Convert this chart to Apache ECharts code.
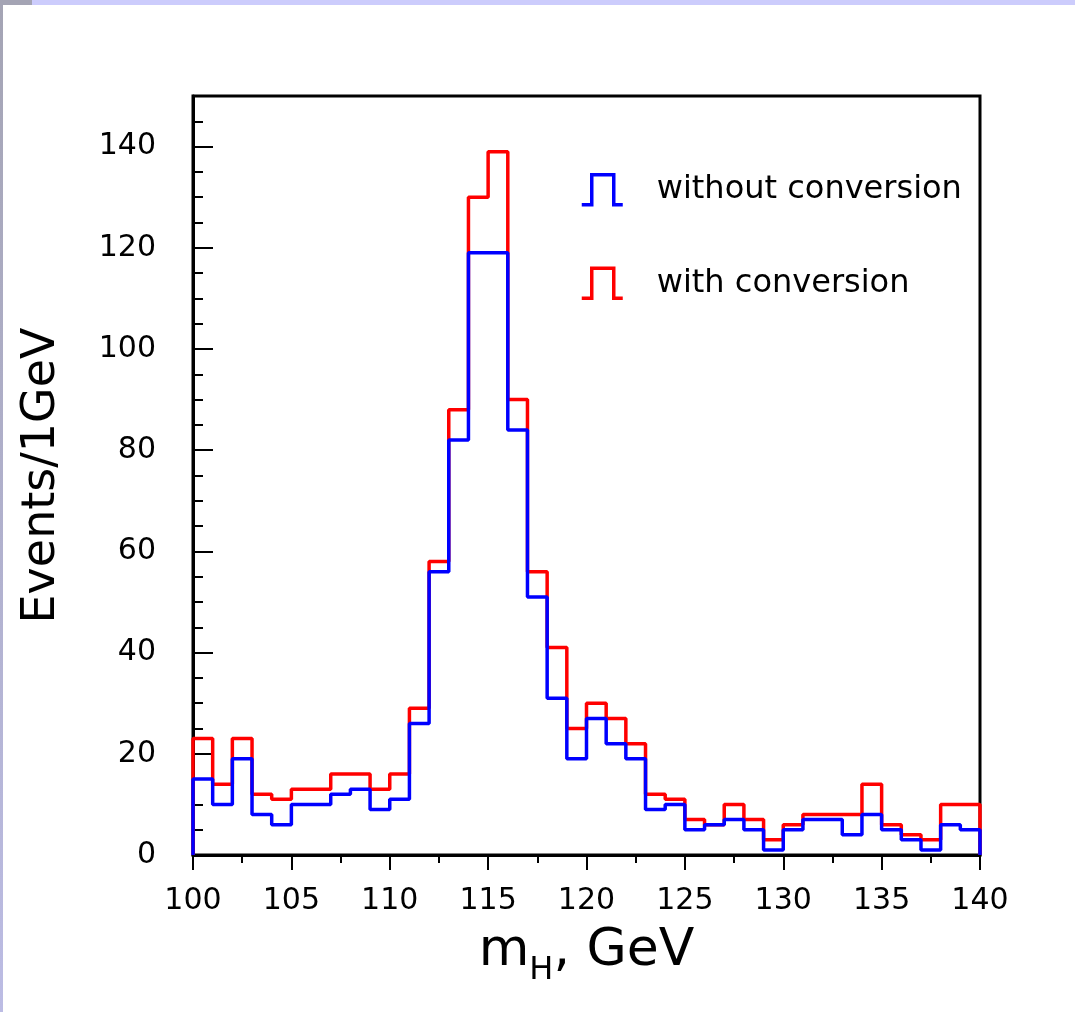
<!DOCTYPE html>
<html>
<head>
<meta charset="utf-8">
<script src="https://cdn.jsdelivr.net/npm/echarts@6/dist/echarts.min.js"></script>
<style>
  html, body { margin: 0; padding: 0; background: #ffffff; }
  #wrap { position: relative; width: 1075px; height: 1012px; background: #ffffff; overflow: hidden; }
  #topbar { position: absolute; left: 0; top: 0; width: 1075px; height: 5px; background: linear-gradient(to right, #a4a4b4 0px, #a4a4b4 32px, #ccccfc 32px, #ccccfc 100%); }
  #leftbar { position: absolute; left: 0; top: 0; width: 3px; height: 1012px; background: linear-gradient(to bottom, #a4a4b4, #bcbce4); }
  #chart { position: absolute; left: 0; top: 0; width: 1075px; height: 1012px; }
</style>
</head>
<body>
<div id="wrap">
  <div id="chart"></div>
  <div id="topbar"></div>
  <div id="leftbar"></div>
</div>
<script>
// Bin lower edges (1 GeV bins from 100 to 140 GeV)
const binStart = 100;
const binWidth = 1;
// Events per bin, with conversion (red)
const withConversion = [23,14,23,12,11,13,13,16,16,13,16,29,58,88,130,139,90,56,41,25,30,27,22,12,11,7,6,10,7,3,6,8,8,8,14,6,4,3,10,10];
// Events per bin, without conversion (blue)
const withoutConversion = [15,10,19,8,6,10,10,12,13,9,11,26,56,82,119,119,84,51,31,19,27,22,19,9,10,5,6,7,5,1,5,7,7,4,8,5,3,1,6,5];
const seriesNames = ['without conversion', 'with conversion'];
const xTitle = 'm';
const xTitleSub = 'H';
const xTitleRest = ', GeV';
const yTitle = 'Events/1GeV';

function histSteps(values) {
  const pts = [[binStart, 0]];
  values.forEach((v, i) => pts.push([binStart + i * binWidth, v]));
  const end = binStart + values.length * binWidth;
  pts.push([end, values[values.length - 1]]);
  pts.push([end, 0]);
  return pts;
}

const FONT = 'DejaVu Sans';
const pulse = 'path://M0,30 L10,30 L10,0 L32,0 L32,30 L41,30';

const chart = echarts.init(document.getElementById('chart'), null, { renderer: 'canvas' });
chart.setOption({
  animation: false,
  backgroundColor: 'transparent',
  grid: { left: 193, top: 96, right: 95, bottom: 157, show: true, borderColor: '#000', borderWidth: 3, backgroundColor: 'transparent' },
  legend: {
    orient: 'vertical',
    left: 580,
    top: 173,
    padding: 0,
    itemWidth: 41,
    itemHeight: 30,
    itemGap: 60,
    icon: pulse,
    selectedMode: false,
    textStyle: { fontFamily: FONT, fontSize: 32, color: '#000', padding: [0, 0, 0, 29] },
    data: [
      { name: seriesNames[0], icon: pulse, itemStyle: { color: 'transparent', borderColor: '#0000ff', borderWidth: 3.5 } },
      { name: seriesNames[1], icon: pulse, itemStyle: { color: 'transparent', borderColor: '#ff0000', borderWidth: 3.5 } }
    ]
  },
  xAxis: {
    type: 'value',
    min: 100,
    max: 140,
    interval: 5,
    name: '{m|' + xTitle + '}{s|' + xTitleSub + '}{m|' + xTitleRest + '}',
    nameLocation: 'middle',
    nameGap: 60,
    nameTextStyle: {
      rich: {
        m: { fontFamily: FONT, fontSize: 52, color: '#000' },
        s: { fontFamily: FONT, fontSize: 32, color: '#000', padding: [40, 0, 0, 0] }
      }
    },
    axisLine: { show: true, onZero: false, lineStyle: { color: '#000', width: 3 } },
    axisTick: { show: true, inside: false, length: 15, lineStyle: { color: '#000', width: 2 } },
    minorTick: { show: true, splitNumber: 2, length: 8, lineStyle: { color: '#000', width: 2 } },
    axisLabel: { fontFamily: FONT, fontSize: 30, color: '#000', margin: 31 },
    splitLine: { show: false }
  },
  yAxis: {
    type: 'value',
    min: 0,
    max: 150,
    interval: 20,
    name: yTitle,
    nameLocation: 'middle',
    nameRotate: 90,
    nameGap: 128,
    nameTextStyle: { fontFamily: FONT, fontSize: 46, color: '#000' },
    axisLine: { show: true, onZero: false, lineStyle: { color: '#000', width: 3 } },
    axisTick: { show: true, inside: true, length: 20, lineStyle: { color: '#000', width: 2 } },
    minorTick: { show: true, splitNumber: 4, length: 10, lineStyle: { color: '#000', width: 2 } },
    axisLabel: { fontFamily: FONT, fontSize: 30, color: '#000', margin: 37, showMaxLabel: false },
    splitLine: { show: false }
  },
  series: [
    {
      name: seriesNames[1],
      type: 'line',
      step: 'end',
      symbol: 'none',
      color: '#ff0000',
      lineStyle: { color: '#ff0000', width: 3.5 },
      data: histSteps(withConversion),
      z: 2
    },
    {
      name: seriesNames[0],
      type: 'line',
      step: 'end',
      symbol: 'none',
      color: '#0000ff',
      lineStyle: { color: '#0000ff', width: 3.5 },
      data: histSteps(withoutConversion),
      z: 3
    }
  ]
});
</script>
</body>
</html>
